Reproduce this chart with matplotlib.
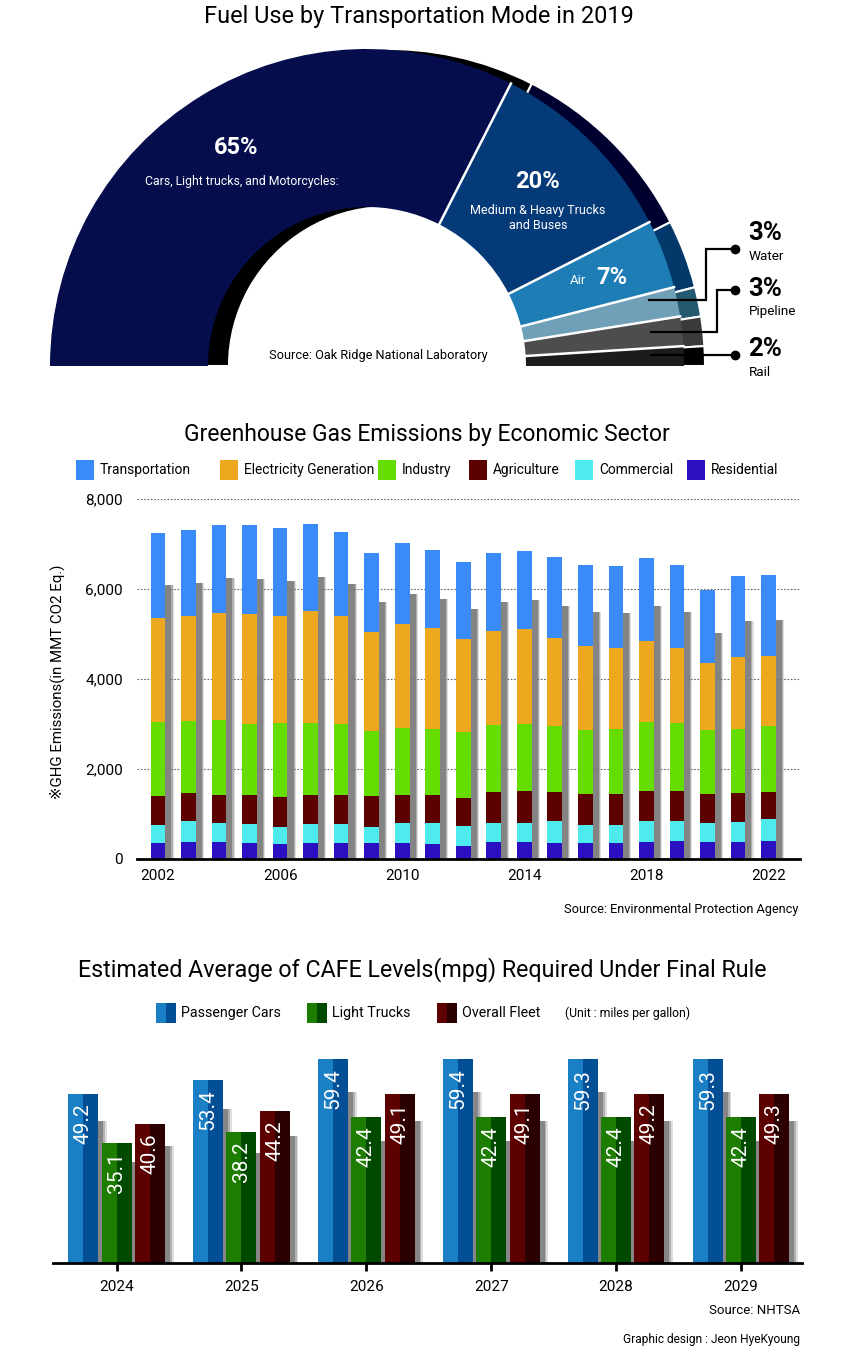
import numpy as np
import matplotlib
matplotlib.use('Agg')
import matplotlib.pyplot as plt
from matplotlib.patches import Rectangle

plt.rcParams['font.family'] = ['Roboto', 'DejaVu Sans']

W, H = 864, 1348

# ---- data: fuel use by mode (2019) ----
fuel_modes = ['Cars, Light trucks, and Motorcycles:', 'Medium & Heavy Trucks\nand Buses',
              'Air', 'Water', 'Pipeline', 'Rail']
fuel_share = [65, 20, 7, 3, 3, 2]
fuel_colors = ['#050d4d', '#053a78', '#1e7db5', '#6fa0b8', '#4d4d4d', '#1c1c1c']
fuel_shadow = ['#000000', '#00002e', '#03386a', '#245a70', '#3a3a3a', '#000000']

# ---- data: GHG emissions by sector (MMT CO2 Eq.) ----
years = list(range(2002, 2023))
residential = [362, 384, 384, 355, 340, 355, 362, 362, 362, 340, 296,
               370, 370, 348, 348, 348, 370, 392, 370, 370, 392]
commercial = [400, 459, 415, 421, 370, 421, 414, 348, 437, 459, 429,
              436, 436, 495, 414, 406, 473, 451, 436, 458, 495]
agriculture = [643, 628, 628, 651, 673, 651, 651, 695, 628, 628, 621,
               673, 710, 636, 672, 695, 665, 665, 643, 643, 607]
industry = [1634, 1590, 1656, 1575, 1634, 1597, 1575, 1442, 1486, 1457, 1478,
            1493, 1493, 1471, 1435, 1442, 1546, 1523, 1420, 1420, 1456]
electricity = [2307, 2344, 2388, 2447, 2388, 2477, 2395, 2203, 2314, 2255, 2063,
               2093, 2093, 1959, 1856, 1797, 1796, 1664, 1479, 1597, 1568]
transportation = [1900, 1907, 1952, 1967, 1944, 1952, 1871, 1760, 1790, 1730, 1723,
                  1745, 1752, 1797, 1818, 1818, 1849, 1848, 1634, 1797, 1796]
sectors = ['Transportation', 'Electricity Generation', 'Industry', 'Agriculture',
           'Commercial', 'Residential']
sector_colors = ['#3a8bfa', '#eea820', '#66dd00', '#5c0000', '#4deaee', '#2a10c0']

# ---- data: CAFE levels (mpg) ----
cafe_years = ['2024', '2025', '2026', '2027', '2028', '2029']
passenger_cars = [49.2, 53.4, 59.4, 59.4, 59.3, 59.3]
light_trucks = [35.1, 38.2, 42.4, 42.4, 42.4, 42.4]
overall_fleet = [40.6, 44.2, 49.1, 49.1, 49.2, 49.3]
cafe_names = ['Passenger Cars', 'Light Trucks', 'Overall Fleet']
cafe_light = ['#1a7fc4', '#1d7d00', '#5c0000']
cafe_dark = ['#034f95', '#004a00', '#2a0000']


def fxy(x, y):
    return x / W, 1 - y / H


def ftext(x, y, s, size, **kw):
    fx, fy = fxy(x, y)
    kw.setdefault('va', 'center')
    kw.setdefault('ha', 'center')
    fig.text(fx, fy, s, fontsize=size, **kw)


def frect(x, y, w, h, color):
    fx, fy = fxy(x, y + h)
    fig.patches.append(Rectangle((fx, fy), w / W, h / H, transform=fig.transFigure,
                                 facecolor=color, edgecolor='none', figure=fig))


def axes_px(left, top, right, bottom):
    return fig.add_axes([left / W, 1 - bottom / H, (right - left) / W, (bottom - top) / H])


fig = plt.figure(figsize=(W / 100, H / 100), dpi=100)

# ================= top: half donut =================
ax0 = axes_px(0, 0, W, 390)
cx, cy, r_out, r_in, shift = 367, -366, 317, 159, 21
vals = fuel_share + [sum(fuel_share)]
sh, _ = ax0.pie(vals, radius=r_out, center=(cx + shift, cy), startangle=180, counterclock=False,
                colors=fuel_shadow + ['none'],
                wedgeprops=dict(width=r_out - r_in, edgecolor='white', linewidth=1.5))
sh[-1].set_visible(False)
wd, _ = ax0.pie(vals, radius=r_out, center=(cx, cy), startangle=180, counterclock=False,
                colors=fuel_colors + ['none'], wedgeprops=dict(width=r_out - r_in, linewidth=0))
wd[-1].set_visible(False)
# white separators between slices
cum = np.cumsum(fuel_share)[:-1]
for c in cum:
    ang = np.radians(180 - 180 * c / sum(fuel_share))
    ax0.plot([cx + r_in * np.cos(ang), cx + r_out * np.cos(ang)],
             [cy + r_in * np.sin(ang), cy + r_out * np.sin(ang)], color='white', lw=1.8)
# leader lines for the small slices
leaders = [[(649, 300), (706, 300), (706, 249), (735, 249)],
           [(651, 332), (717, 332), (717, 290), (735, 290)],
           [(651, 355), (735, 355)]]
for pts in leaders:
    xs = [p[0] for p in pts]
    ys = [-p[1] for p in pts]
    ax0.plot(xs, ys, color='black', lw=1.6, solid_joinstyle='miter')
    ax0.plot(xs[-1], ys[-1], 'o', color='black', ms=6)
ax0.set_xlim(0, W)
ax0.set_ylim(-390, 0)
ax0.set_aspect('auto')
ax0.axis('off')

ftext(419, 16, 'Fuel Use by Transportation Mode in 2019', 16.9)
ftext(236, 148, f'{fuel_share[0]}%', 17, color='white', fontweight='bold')
ftext(242, 182, fuel_modes[0], 8.8, color='white')
ftext(538, 182, f'{fuel_share[1]}%', 17, color='white', fontweight='bold')
ftext(538, 218, fuel_modes[1], 9, color='white', linespacing=1.15)
ftext(578, 281, fuel_modes[2], 9.5, color='white')
ftext(612, 278, f'{fuel_share[2]}%', 17, color='white', fontweight='bold')
ftext(378, 356, 'Source: Oak Ridge National Laboratory', 9.2)
for (y1, y2), i in zip([(233, 256), (289, 311), (349, 373)], [3, 4, 5]):
    ftext(748, y1, f'{fuel_share[i]}%', 18.5, fontweight='bold', ha='left')
    ftext(749, y2, fuel_modes[i], 9.7, ha='left')

# ================= middle: stacked bars =================
ftext(427, 435, 'Greenhouse Gas Emissions by Economic Sector', 16.5)
leg_x = [76, 220, 378, 469, 575, 687]
for lx, name, col in zip(leg_x, sectors, sector_colors):
    frect(lx, 460, 18, 20, col)
    ftext(lx + 24, 470, name, 9.9, ha='left')

ax1 = axes_px(137, 499, 800, 859)
x = np.array(years, dtype=float)
stack = [residential, commercial, agriculture, industry, electricity, transportation]
stack_colors = sector_colors[::-1]
total = np.sum(stack, axis=0)
bw = 0.48
for dw, a in [(0.14, 0.25), (0.07, 0.45), (0.0, 0.85)]:
    ax1.bar(x + 0.2, total * 0.84, width=bw + dw, color='#7c7c7c', alpha=a, zorder=1, lw=0)
bottom = np.zeros(len(years))
for vals_s, col in zip(stack, stack_colors):
    ax1.bar(x, vals_s, width=bw, bottom=bottom, color=col, zorder=2, lw=0)
    bottom += np.array(vals_s)
ax1.set_xlim(2002 - 21 / 30.5, 2022 + 31.5 / 30.5)
ax1.set_ylim(0, 8000)
ax1.set_yticks([0, 2000, 4000, 6000, 8000])
ax1.yaxis.set_major_formatter(matplotlib.ticker.StrMethodFormatter('{x:,.0f}'))
ax1.set_xticks([2002, 2006, 2010, 2014, 2018, 2022])
ax1.tick_params(axis='both', length=0, labelsize=11)
ax1.tick_params(axis='y', pad=10)
ax1.tick_params(axis='x', pad=7)
ax1.yaxis.grid(True, linestyle=(0, (1.5, 1.5)), color='#666666', lw=0.8)
ax1.set_axisbelow(True)
for s in ['top', 'right', 'left']:
    ax1.spines[s].set_visible(False)
ax1.spines['bottom'].set_linewidth(2)
ax1.spines['bottom'].set_zorder(5)
ftext(57, 682, '※GHG Emissions(in MMT CO2 Eq.)', 10.8, rotation=90)
ftext(798, 909, 'Source: Environmental Protection Agency', 9.2, ha='right')

# ================= bottom: CAFE grouped bars =================
ftext(422, 970, 'Estimated Average of CAFE Levels(mpg) Required Under Final Rule', 16.75)
for lx, name, c1, c2 in zip([156, 307, 437], cafe_names, cafe_light, cafe_dark):
    frect(lx, 1003, 10, 20, c1)
    frect(lx + 10, 1003, 10, 20, c2)
    ftext(lx + 25, 1013, name, 10.3, ha='left')
ftext(565, 1013, '(Unit : miles per gallon)', 8.8, ha='left')

ax2 = axes_px(53, 1263 - 65 * 3.433, 802, 1263)
gx = np.arange(len(cafe_years), dtype=float)
unit = 124.9
bar_w = 30 / unit
step = 33.3 / unit
series = [passenger_cars, light_trucks, overall_fleet]
for k, vals_c in enumerate(series):
    xc = gx + (k - 1) * step
    v = np.array(vals_c)
    for dw, a in [(0.06, 0.25), (0.03, 0.45), (0.0, 0.8)]:
        ax2.bar(xc + 5 / unit, v * 0.84, width=bar_w + dw, color='#7c7c7c', alpha=a, zorder=1, lw=0)
    ax2.bar(xc - bar_w / 4, v, width=bar_w / 2, color=cafe_light[k], zorder=2, lw=0)
    ax2.bar(xc + bar_w / 4, v, width=bar_w / 2, color=cafe_dark[k], zorder=2, lw=0)
    for xi, vi in zip(xc, v):
        ax2.text(xi, vi - 2.7, f'{vi:.1f}', rotation=90, ha='center', va='top',
                 color='white', fontsize=15, zorder=3)
ax2.set_xlim(-(116.5 - 53) / unit, 5 + (802 - 741) / unit)
ax2.set_ylim(0, 65)
ax2.set_yticks([])
ax2.set_xticks(gx)
ax2.set_xticklabels(cafe_years)
ax2.tick_params(axis='x', length=6, width=2, labelsize=11, pad=6)
for s in ['top', 'right', 'left']:
    ax2.spines[s].set_visible(False)
ax2.spines['bottom'].set_linewidth(2)
ax2.spines['bottom'].set_zorder(5)
ftext(800, 1310, 'Source: NHTSA', 9.5, ha='right')
ftext(800, 1340, 'Graphic design : Jeon HyeKyoung', 8.6, ha='right')

fig.savefig('out.png', dpi=100)
